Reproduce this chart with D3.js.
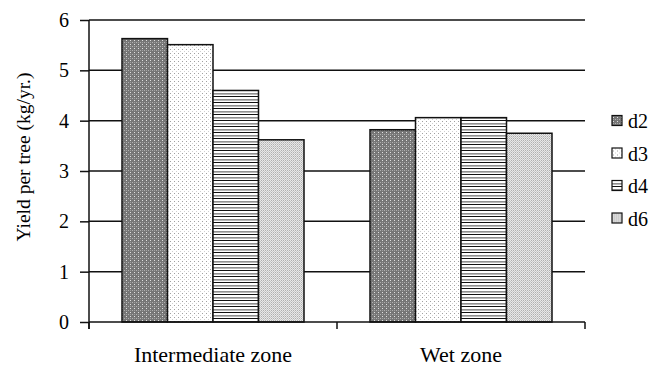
<!DOCTYPE html>
<html><head><meta charset="utf-8">
<script src="https://cdn.jsdelivr.net/npm/d3@7"></script>
<style>body{margin:0;background:#fff}svg{display:block}svg text{font-family:'Liberation Serif','Times New Roman',serif}</style>
</head><body><svg id="c" width="658" height="369"></svg>
<script>
const categories = ["Intermediate zone", "Wet zone"];
const seriesNames = ["d2", "d3", "d4", "d6"];
const d2 = [5.63, 3.82];
const d3v = [5.51, 4.06];
const d4 = [4.60, 4.06];
const d6 = [3.62, 3.75];
const yTicks = [0, 1, 2, 3, 4, 5, 6];
const values = [d2, d3v, d4, d6];

const svg = d3.select("#c");
const font = "'Liberation Serif','Times New Roman',serif";
const L = 89, R = 585, T = 20, B = 322;

const defs = svg.append("defs");
function pat(id, w, h, bg, dots) {
  const p = defs.append("pattern").attr("id", id).attr("patternUnits", "userSpaceOnUse")
    .attr("width", w).attr("height", h);
  p.append("rect").attr("width", w).attr("height", h).attr("fill", bg);
  dots.forEach(d => p.append("rect").attr("x", d[0]).attr("y", d[1]).attr("width", d[2]).attr("height", d[3]).attr("fill", d[4]));
}
pat("p0", 4, 4, "#767676", [[1,0,1,1,"#e0e0e0"],[3,2,1,1,"#b0b0b0"],[1,2,1,1,"#a0a0a0"]]);
pat("p1", 4, 4, "#ffffff", [[1,1,1,1,"#a0a0a0"],[3,3,1,1,"#d0d0d0"]]);
pat("p2", 6, 6, "#ffffff", [[0,0,6,1,"#111"],[0,3,6,1,"#909090"],[0,4,6,1,"#b8b8b8"]]);
pat("p3", 2, 2, "#e8e8e8", [[0,0,1,1,"#b0b0b0"],[1,1,1,1,"#c8c8c8"]]);

const y = d3.scaleLinear().domain([0, 6]).range([B, T]);
const x0 = d3.scaleBand().domain(categories).range([L, R]).padding(0);
const x1 = d3.scaleBand().domain(seriesNames).range([33, x0.bandwidth() - 33]).padding(0);

// gridlines
svg.append("g").selectAll("line").data(yTicks.filter(v => v > 0)).join("line")
  .attr("x1", L).attr("x2", R).attr("y1", d => y(d)).attr("y2", d => y(d))
  .attr("stroke", "#111").attr("stroke-width", 1.5);

// bars
const g = svg.append("g").selectAll("g").data(categories).join("g")
  .attr("transform", c => `translate(${x0(c)},0)`);
g.selectAll("rect").data((c, ci) => seriesNames.map((s, si) => ({s, si, v: values[si][ci]}))).join("rect")
  .attr("x", d => x1(d.s)).attr("width", x1.bandwidth())
  .attr("y", d => y(d.v)).attr("height", d => y(0) - y(d.v))
  .attr("fill", d => `url(#p${d.si})`).attr("stroke", "#111").attr("stroke-width", 1.5);

// y axis
const ya = svg.append("g").attr("transform", `translate(${L},0)`)
  .call(d3.axisLeft(y).tickValues(yTicks).tickFormat(d3.format("d")).tickSize(9).tickPadding(11).tickSizeOuter(0));
ya.select(".domain").remove();
ya.selectAll("line").attr("stroke", "#111").attr("stroke-width", 1.5);
ya.selectAll("text").style("font-family", font).style("font-size", "20px").attr("fill", "#000");
svg.append("line").attr("x1", L).attr("x2", L).attr("y1", T).attr("y2", B + 7)
  .attr("stroke", "#111").attr("stroke-width", 1.5);

// x axis
svg.append("line").attr("x1", L).attr("x2", R).attr("y1", B).attr("y2", B)
  .attr("stroke", "#111").attr("stroke-width", 1.5);
const bounds = categories.map(c => x0(c)).concat([x0(categories[categories.length-1]) + x0.bandwidth()]);
svg.append("g").selectAll("line").data(bounds).join("line")
  .attr("x1", d => d).attr("x2", d => d).attr("y1", B).attr("y2", B + 7)
  .attr("stroke", "#111").attr("stroke-width", 1.5);
svg.append("g").selectAll("text").data(categories).join("text")
  .attr("x", c => x0(c) + x0.bandwidth() / 2).attr("y", 362)
  .attr("text-anchor", "middle").style("font-size", "22px").text(c => c);

// y title
svg.append("text").attr("transform", "translate(30,157) rotate(-90)")
  .attr("text-anchor", "middle").style("font-size", "19.5px")
  .text("Yield per tree (kg/yr.)");

// legend
const lg = svg.append("g").selectAll("g").data(seriesNames).join("g")
  .attr("transform", (d, i) => `translate(612,${121 + i * 32.5})`);
lg.append("rect").attr("x", 0).attr("y", -5.5).attr("width", 10).attr("height", 10)
  .attr("fill", (d, i) => `url(#p${i})`).attr("stroke", "#111").attr("stroke-width", 1.2);
lg.append("text").attr("x", 16).attr("y", 7).style("font-size", "20px").text(d => d);
</script></body></html>
